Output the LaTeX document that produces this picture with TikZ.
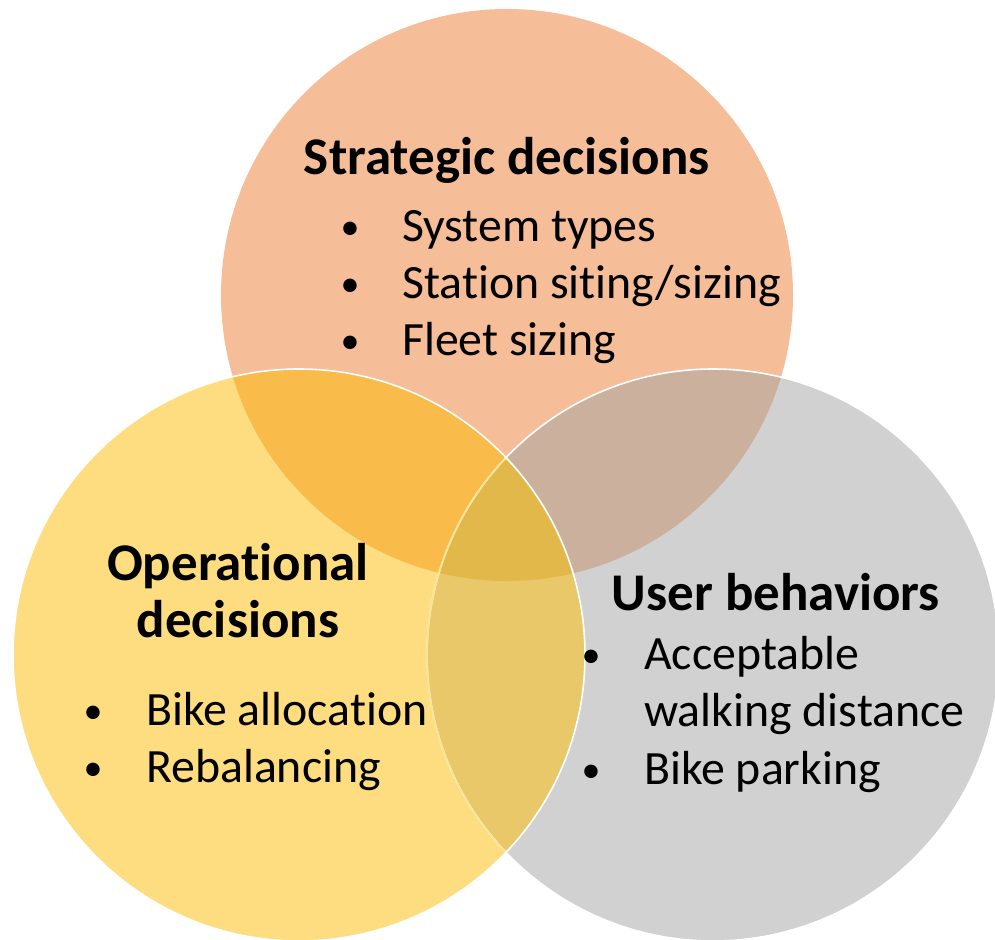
\documentclass[tikz,border=0pt]{standalone}
\usepackage{fontspec}
\setmainfont{Carlito}[Ligatures=NoCommon]
\definecolor{cOrange}{HTML}{F5BD98}
\definecolor{cYellow}{HTML}{FEDC80}
\definecolor{cGray}{HTML}{D1D1D1}
\definecolor{cOY}{HTML}{F9BC4A}
\definecolor{cOG}{HTML}{CCB09E}
\definecolor{cYG}{HTML}{E8C868}
\definecolor{cOYG}{HTML}{E3B84A}
\definecolor{cTint}{HTML}{FCE496}
\tikzset{
  heading/.style={font=\fontsize{53}{60}\selectfont\bfseries, inner sep=0pt, anchor=base},
  item/.style={font=\fontsize{47.8}{57}\selectfont, inner sep=0pt, anchor=base west},
  dot/.style={font=\fontsize{38}{57}\selectfont, inner sep=0pt, anchor=base},
}
\begin{document}
\begin{tikzpicture}[x=1pt,y=-1pt]
\useasboundingbox (0,0) rectangle (995,939);
\def\rad{286}
\coordinate (T) at (507,295);
\coordinate (L) at (299,655);
\coordinate (R) at (713,655);

% single-circle fills
\fill[cOrange] (T) circle (\rad);
\fill[cYellow] (L) circle (\rad);
\fill[cGray] (R) circle (\rad);
% pairwise overlaps
\begin{scope}
  \clip (T) circle (\rad);
  \fill[cOY] (L) circle (\rad);
  \fill[cOG] (R) circle (\rad);
\end{scope}
\begin{scope}
  \clip (L) circle (\rad);
  \fill[cYG] (R) circle (\rad);
\end{scope}
% triple overlap
\begin{scope}
  \clip (T) circle (\rad);
  \clip (L) circle (\rad);
  \fill[cOYG] (R) circle (\rad);
\end{scope}
% outlines
\draw[white, line width=1.6] (R) circle (\rad);
\begin{scope}
  \clip (L) circle (\rad);
  \draw[cTint, line width=1.6] (R) circle (\rad);
\end{scope}
\draw[white, line width=1.6] (L) circle (\rad);

% strategic decisions
\node[heading] (sh) at (507,174) {Strategic decisions};
\node[dot] (sb1) at (350,239) {•};
\node[item] (s1) at (402,241) {System types};
\node[dot] (sb2) at (350,296) {•};
\node[item] (s2) at (402,298) {Station siting/sizing};
\node[dot] (sb3) at (350,353) {•};
\node[item] (s3) at (402,355) {Fleet sizing};

% operational decisions
\node[heading] (oh1) at (238,580) {Operational};
\node[heading] (oh2) at (238,637) {decisions};
\node[dot] (ob1) at (93,723) {•};
\node[item] (o1) at (146,725) {Bike allocation};
\node[dot] (ob2) at (93,780) {•};
\node[item] (o2) at (146,782) {Rebalancing};

% user behaviors
\node[heading] (uh) at (776,610) {User behaviors};
\node[dot] (ub1) at (591,667) {•};
\node[item] (u1) at (644,669) {Acceptable};
\node[item] (u2) at (644,726) {walking distance};
\node[dot] (ub2) at (591,782) {•};
\node[item] (u3) at (644,784) {Bike parking};
\end{tikzpicture}
\end{document}
